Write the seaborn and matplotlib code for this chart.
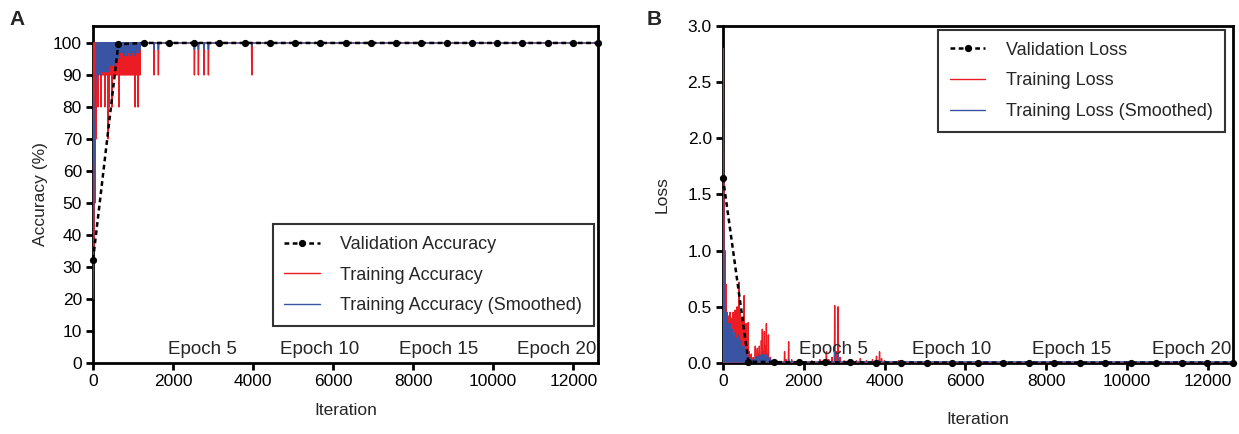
import numpy as np
import pandas as pd
import seaborn as sns
import matplotlib.pyplot as plt
from matplotlib.ticker import FormatStrFormatter

sns.set_style('ticks')
plt.rcParams['font.family'] = ['Liberation Sans', 'DejaVu Sans']

RED = '#ec1c24'
BLUE = '#3a54a4'

# validation: one point per epoch (631 iterations per epoch, 20 epochs)
val_iter = [0, 631, 1262, 1893, 2524, 3155, 3786, 4417, 5048, 5679, 6310,
            6941, 7572, 8203, 8834, 9465, 10096, 10727, 11358, 11989, 12620]
val_acc = [32.3, 99.6, 100, 100, 100, 100, 100, 100, 100, 100, 100,
           100, 100, 100, 100, 100, 100, 100, 100, 100, 100]
val_loss = [1.65, 0.012, 0.008, 0.006, 0.005, 0.005, 0.004, 0.004, 0.004, 0.003, 0.003,
            0.003, 0.003, 0.003, 0.003, 0.003, 0.003, 0.003, 0.003, 0.003, 0.003]

# training accuracy: 100 except the dips below
acc_dip_iter = [25, 50, 75, 100, 125, 150, 175, 200, 225, 250, 275, 300, 325, 350,
                375, 400, 425, 450, 475, 500, 525, 550, 575, 600, 625, 650, 675, 700,
                725, 750, 775, 800, 825, 850, 875, 900, 925, 950, 975, 1000, 1025,
                1050, 1075, 1100, 1125, 1150, 1175,
                1525, 1633, 2533, 2633, 2775, 2883, 3967]
acc_dip_val = [35, 50, 70, 90, 80, 90, 90, 80, 90, 90, 90, 80, 90, 90,
               70, 80, 90, 90, 80, 90, 90, 90, 90, 90, 90, 80, 90, 90,
               90, 90, 90, 90, 90, 90, 90, 90, 90, 90, 90, 90, 90,
               80, 90, 90, 80, 90, 90,
               90, 90, 90, 90, 90, 90, 90]
acc_start = [(0, 30)]

# smoothed training accuracy
sm_acc_dip_iter = [100, 125, 150, 175, 200, 225, 250, 275, 300, 325, 350, 375, 400,
                   425, 450, 475, 500, 525, 550, 575, 600, 625, 650, 675, 700, 725,
                   750, 775, 800, 825, 850, 875, 900, 925, 950, 975, 1000, 1025, 1050,
                   1075, 1100, 1125, 1150, 1175,
                   1525, 1633, 2533, 2633, 2775, 2883, 3967]
sm_acc_dip_val = [91, 90, 91, 91, 90, 91, 92, 91, 91, 92, 91, 91, 92,
                  93, 94, 93, 94, 94, 93, 95, 94, 95, 96, 97, 97, 97,
                  97, 96, 97, 97, 96, 97, 97, 97, 96, 97, 97, 97, 96,
                  97, 97, 97, 97, 98,
                  98, 98, 98, 98, 98, 98, 99]
sm_acc_start = [(0, 20), (12, 40), (25, 60), (50, 80), (75, 90)]

# training loss: near zero except the peaks below
loss_pk_iter = [25, 50, 75, 100, 125, 150, 175, 200, 225, 250, 275, 300, 325, 350,
                375, 400, 425, 450, 475, 500, 525, 550, 575, 600, 625, 650, 675, 700,
                725, 750, 775, 800, 825, 850, 875, 900, 925, 950, 975, 1000, 1025,
                1050, 1075, 1100, 1125, 1150, 1175, 1200, 1250, 1300,
                1525, 1560, 1625, 1700, 1800, 2000, 2200, 2400, 2560, 2620, 2700,
                2765, 2810, 2850, 2900, 3000, 3136, 3300, 3400, 3550, 3700, 3800,
                3875, 3925, 4000, 4350, 4420, 4800, 5100, 5600, 6300, 8200]
loss_pk_val = [1.6, 1.0, 0.7, 0.45, 0.42, 0.3, 0.45, 0.35, 0.4, 0.45, 0.3, 0.47, 0.35, 0.5,
               0.3, 0.72, 0.45, 0.3, 0.4, 0.25, 0.6, 0.2, 0.35, 0.15, 0.36, 0.1, 0.05, 0.08,
               0.03, 0.05, 0.02, 0.15, 0.05, 0.13, 0.08, 0.15, 0.05, 0.2, 0.3, 0.1, 0.28,
               0.15, 0.35, 0.08, 0.25, 0.04, 0.05, 0.02, 0.02, 0.01,
               0.1, 0.03, 0.19, 0.03, 0.01, 0.01, 0.02, 0.03, 0.1, 0.03, 0.05,
               0.51, 0.1, 0.5, 0.05, 0.02, 0.03, 0.02, 0.04, 0.02, 0.03, 0.06,
               0.1, 0.04, 0.02, 0.02, 0.02, 0.01, 0.01, 0.01, 0.01, 0.005]
loss_start = [(0, 2.8), (10, 2.8)]

# smoothed training loss
sm_loss_pk_iter = [50, 75, 100, 125, 150, 175, 200, 225, 250, 275, 300, 325, 350, 375,
                   400, 425, 450, 475, 500, 525, 550, 575, 600, 625, 650, 675, 700,
                   725, 750, 775, 800, 825, 850, 875, 900, 925, 950, 975, 1000, 1025,
                   1050, 1075, 1100, 1125, 1150, 1175, 1625, 2765, 2850, 3850]
sm_loss_pk_val = [0.5, 0.45, 0.4, 0.35, 0.3, 0.35, 0.28, 0.3, 0.25, 0.22, 0.27, 0.2, 0.22, 0.2,
                  0.25, 0.18, 0.2, 0.15, 0.12, 0.15, 0.1, 0.08, 0.06, 0.05, 0.05, 0.04, 0.03,
                  0.02, 0.03, 0.03, 0.04, 0.05, 0.06, 0.05, 0.06, 0.07, 0.06, 0.07, 0.08, 0.07,
                  0.06, 0.07, 0.06, 0.05, 0.04, 0.03, 0.03, 0.1, 0.08, 0.02]
sm_loss_start = [(0, 2.24), (10, 2.24), (20, 1.2), (32, 0.6)]

# epoch captions and where their centres sit along the iteration axis
epoch_labels = ['Epoch 5', 'Epoch 10', 'Epoch 15', 'Epoch 20']
epoch_label_x = [2740, 5670, 8640, 11590]
x_end = 12620


def spikes(start, base, it, val, half=8):
    # turn a list of dips / peaks into a line that sits on `base` between them
    xs = [p[0] for p in start]
    ys = [p[1] for p in start]
    for i, v in zip(it, val):
        xs += [i - half, i, i + half]
        ys += [base, v, base]
    xs.append(x_end)
    ys.append(base)
    return pd.DataFrame({'iteration': xs, 'value': ys})


def style_axes(ax, xlab_y):
    for s in ax.spines.values():
        s.set_visible(True)
        s.set_linewidth(2.0)
        s.set_color('black')
        s.set_zorder(1)
    ax.tick_params(width=2, length=5, labelsize=12.5, direction='out', colors='black', pad=3)
    ax.set_xlim(0, x_end)
    ax.set_xticks([0, 2000, 4000, 6000, 8000, 10000, 12000])
    ax.set_xlabel('Iteration', fontsize=12.5)
    ax.xaxis.set_label_coords(0.5, xlab_y)
    for txt, xc in zip(epoch_labels, epoch_label_x):
        ax.text(xc, 0.04, txt, ha='center', va='center', fontsize=13.5,
                transform=ax.get_xaxis_transform())


def add_legend(ax, **kw):
    h, l = ax.get_legend_handles_labels()
    leg = ax.legend([h[2], h[0], h[1]], [l[2], l[0], l[1]], fontsize=13, frameon=True,
                    fancybox=False, edgecolor='black', handlelength=1.95, handletextpad=1.15,
                    labelspacing=0.75, borderpad=0.65, borderaxespad=0, **kw)
    leg.get_frame().set_linewidth(1.5)
    leg.set_zorder(10)


fig = plt.figure(figsize=(12.39, 4.34), dpi=100)
axA = fig.add_axes([0.0751, 0.1636, 0.4076, 0.7765])
axB = fig.add_axes([0.5835, 0.1636, 0.4116, 0.7765])

val_style = dict(color='black', lw=1.8, linestyle=(0, (1.9, 1.4)), marker='o', markersize=5.2,
                 markeredgewidth=0, estimator=None, clip_on=False, zorder=5)

# ---- panel A: accuracy
dfa = spikes(acc_start, 100, acc_dip_iter, acc_dip_val)
dfa_s = spikes(sm_acc_start, 100, sm_acc_dip_iter, sm_acc_dip_val)
dfa_v = pd.DataFrame({'iteration': val_iter, 'value': val_acc})
sns.lineplot(data=dfa, x='iteration', y='value', ax=axA, color=RED, lw=1,
             estimator=None, label='Training Accuracy', zorder=3)
sns.lineplot(data=dfa_s, x='iteration', y='value', ax=axA, color=BLUE, lw=1,
             estimator=None, label='Training Accuracy (Smoothed)', zorder=3.1)
sns.lineplot(data=dfa_v, x='iteration', y='value', ax=axA, label='Validation Accuracy',
             **val_style)
axA.set_ylim(0, 105.3)
axA.set_yticks(range(0, 101, 10))
axA.set_ylabel('Accuracy (%)', fontsize=12.5)
axA.yaxis.set_label_coords(-0.09, 0.5)
style_axes(axA, -0.12)
add_legend(axA, loc='lower right', bbox_to_anchor=(0.992, 0.11))

# ---- panel B: loss
dfb = spikes(loss_start, 0.003, loss_pk_iter, loss_pk_val)
dfb_s = spikes(sm_loss_start, 0.01, sm_loss_pk_iter, sm_loss_pk_val)
dfb_v = pd.DataFrame({'iteration': val_iter, 'value': val_loss})
sns.lineplot(data=dfb, x='iteration', y='value', ax=axB, color=RED, lw=1,
             estimator=None, label='Training Loss', zorder=3)
sns.lineplot(data=dfb_s, x='iteration', y='value', ax=axB, color=BLUE, lw=1,
             estimator=None, label='Training Loss (Smoothed)', zorder=3.1)
sns.lineplot(data=dfb_v, x='iteration', y='value', ax=axB, label='Validation Loss',
             **val_style)
axB.set_ylim(0, 3.0)
axB.set_yticks([0, 0.5, 1.0, 1.5, 2.0, 2.5, 3.0])
axB.yaxis.set_major_formatter(FormatStrFormatter('%.1f'))
axB.set_ylabel('Loss', fontsize=12.5)
axB.yaxis.set_label_coords(-0.104, 0.5)
style_axes(axB, -0.145)
add_legend(axB, loc='upper right', bbox_to_anchor=(0.984, 0.988))

fig.text(0.008, 0.955, 'A', fontsize=15, fontweight='bold', va='center')
fig.text(0.522, 0.955, 'B', fontsize=15, fontweight='bold', va='center')

fig.savefig('out.png', dpi=100)
